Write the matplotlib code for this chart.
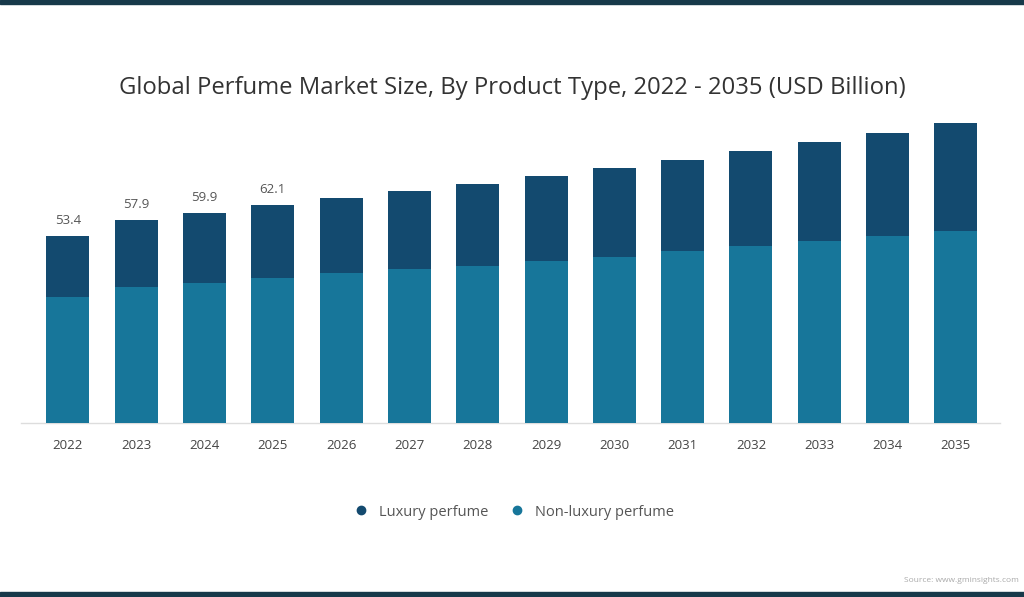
import matplotlib
matplotlib.use("Agg")
import matplotlib.pyplot as plt
from matplotlib.patches import Rectangle
from matplotlib.lines import Line2D

years = ["2022", "2023", "2024", "2025", "2026", "2027", "2028",
         "2029", "2030", "2031", "2032", "2033", "2034", "2035"]
non_luxury = [36.0, 38.9, 39.9, 41.3, 42.7, 43.9, 44.9, 46.3, 47.3, 49.1, 50.6, 51.8, 53.4, 54.8]
luxury = [17.4, 19.0, 20.0, 20.8, 21.5, 22.2, 23.3, 24.3, 25.5, 26.1, 27.2, 28.4, 29.4, 30.9]
label_values = ["53.4", "57.9", "59.9", "62.1"]

c_lux = "#134a6f"
c_non = "#17769a"

plt.rcParams['font.family'] = ['Open Sans', 'DejaVu Sans']

W, H = 1024, 597
fig = plt.figure(figsize=(W / 100, H / 100), dpi=100)
fig.patch.set_facecolor("white")

left_px, right_px = 30.4, 990.0
base_px, top_px = 422.5, 90.4
ax = fig.add_axes([left_px / W, (H - base_px) / H, (right_px - left_px) / W, (base_px - top_px) / H])
ax.set_xlim(-0.55, 13.5)
ax.set_ylim(0, 95)

x = list(range(len(years)))
ax.bar(x, non_luxury, width=0.63, color=c_non, zorder=2)
ax.bar(x, luxury, width=0.63, bottom=non_luxury, color=c_lux, zorder=2)

totals = [a + b for a, b in zip(non_luxury, luxury)]
for i, lab in enumerate(label_values):
    ax.text(i, totals[i] + 2.6, lab, ha="center", va="bottom", fontsize=9.5, color="#555555")

for s in ax.spines.values():
    s.set_visible(False)
ax.axhline(0, color="#dddddd", lw=1, zorder=1, xmin=-0.01, xmax=1.01, clip_on=False)
ax.set_yticks([])
ax.set_xticks(x)
ax.set_xticklabels(years, fontsize=9.5, color="#444444")
ax.tick_params(axis="x", length=0, pad=12)

fig.text(512 / W, (H - 88) / H, "Global Perfume Market Size, By Product Type, 2022 - 2035 (USD Billion)",
         ha="center", va="center", fontsize=17.2, color="#333333")

handles = [Line2D([], [], marker="o", ls="", color=c_lux, markersize=6),
           Line2D([], [], marker="o", ls="", color=c_non, markersize=6)]
fig.legend(handles, ["Luxury perfume", "Non-luxury perfume"], loc="center",
           bbox_to_anchor=(510 / W, (H - 512) / H), ncol=2, frameon=False,
           fontsize=10.5, labelcolor="#555555", handletextpad=0.2, columnspacing=1.0)

fig.text(1019 / W, (H - 580) / H, "Source: www.gminsights.com", fontsize=6, color="#aaaaaa",
         ha="right", va="center")

fig.patches.append(Rectangle((0, (H - 4) / H), 1, 4 / H, transform=fig.transFigure,
                             color="#17394a", zorder=10))
fig.patches.append(Rectangle((0, 0), 1, 5 / H, transform=fig.transFigure,
                             color="#17394a", zorder=10))

fig.savefig("out.png", dpi=100)
